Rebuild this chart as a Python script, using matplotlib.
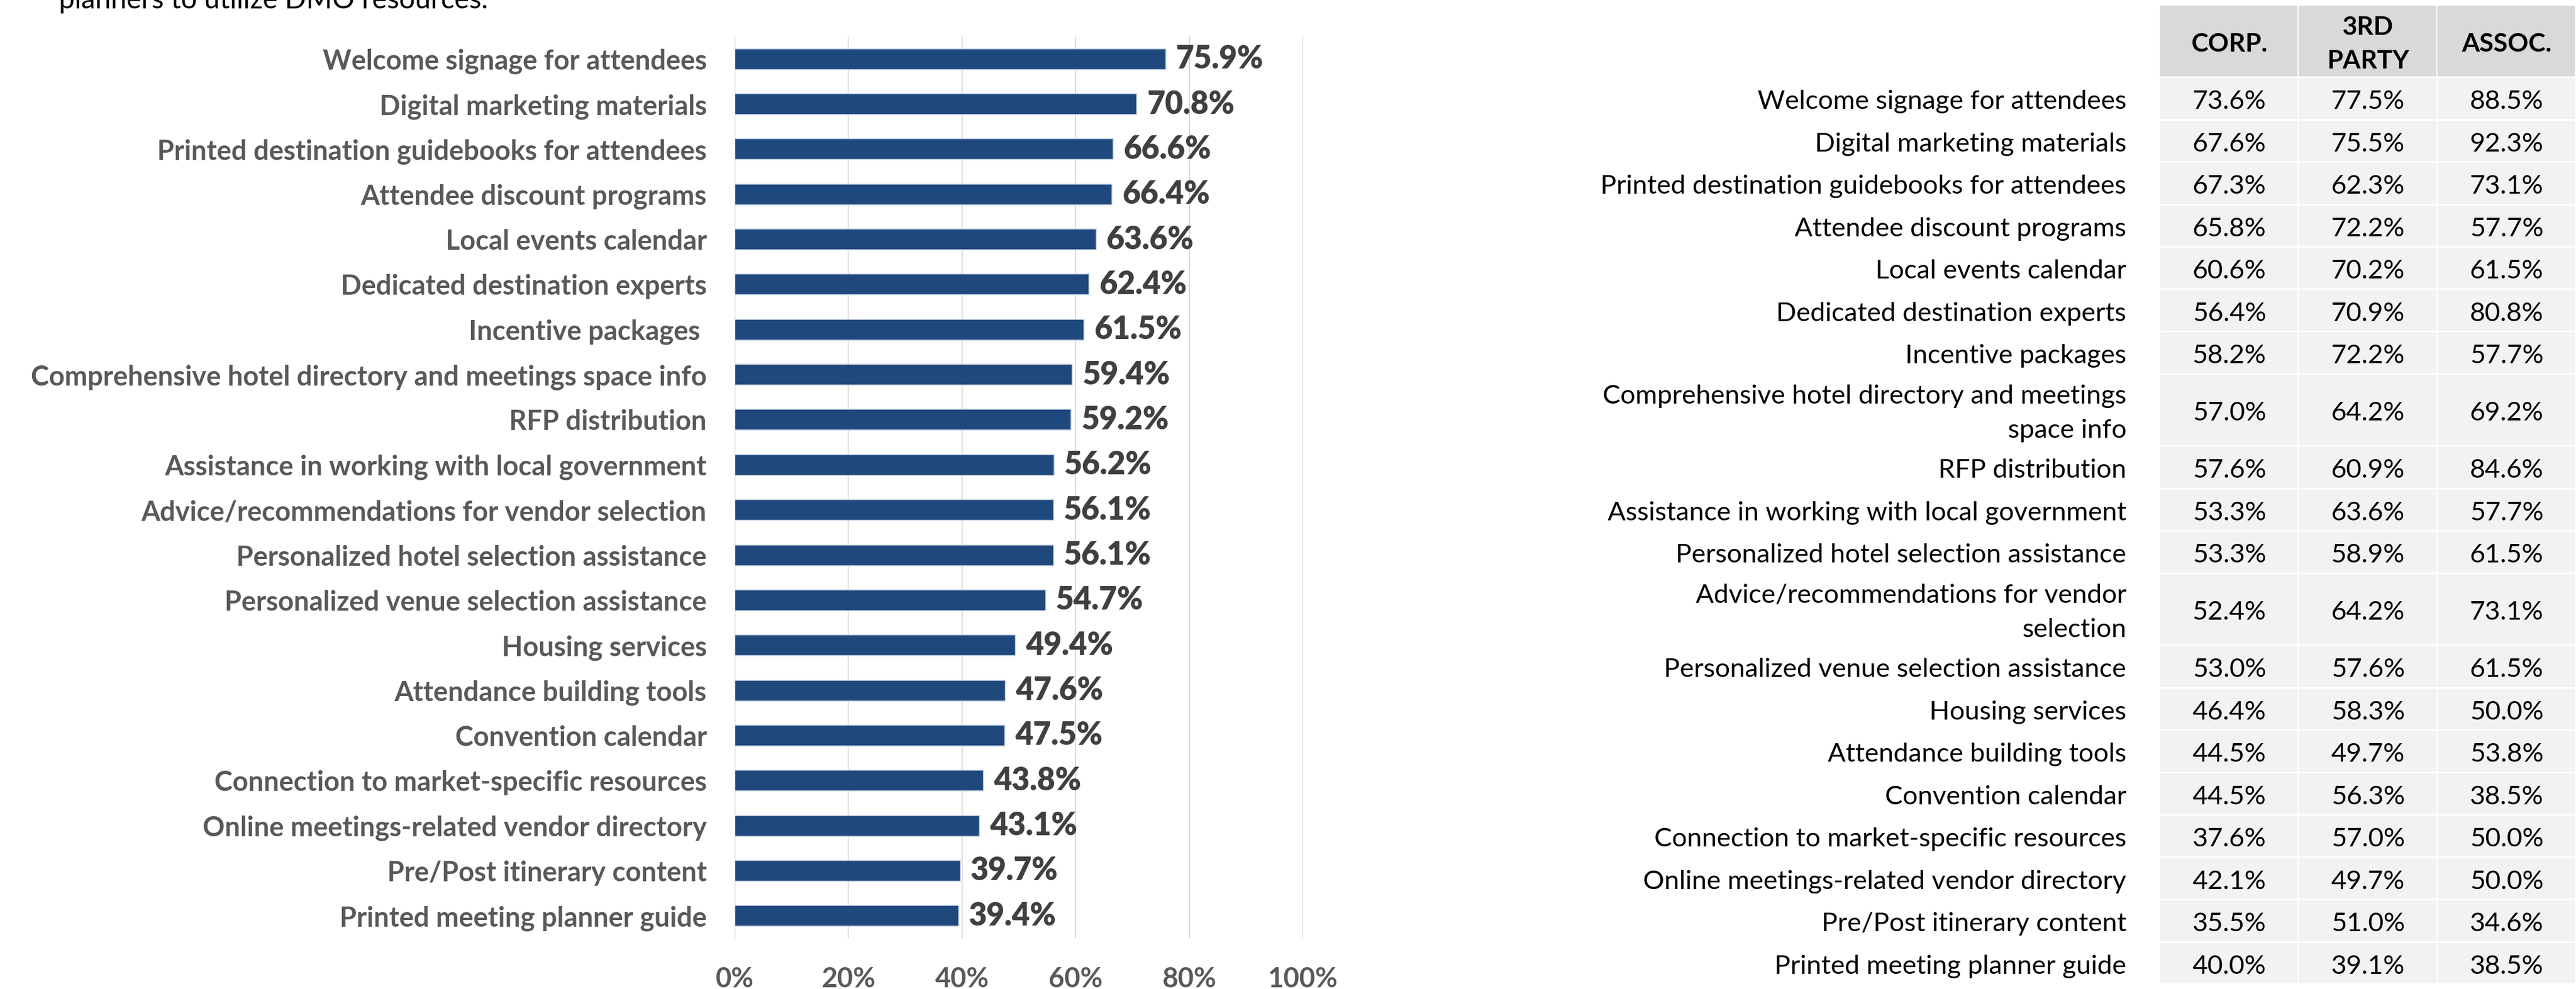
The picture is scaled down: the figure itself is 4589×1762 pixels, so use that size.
import matplotlib
matplotlib.use("Agg")
import matplotlib.pyplot as plt
import matplotlib.patches as mpatches
import numpy as np

plt.rcParams["font.family"] = ["Lato", "DejaVu Sans"]

# ── Datos: gráfico de barras (total) ─────────────────────────────────
bar_labels = [
    "Welcome signage for attendees",
    "Digital marketing materials",
    "Printed destination guidebooks for attendees",
    "Attendee discount programs",
    "Local events calendar",
    "Dedicated destination experts",
    "Incentive packages ",
    "Comprehensive hotel directory and meetings space info",
    "RFP distribution",
    "Assistance in working with local government",
    "Advice/recommendations for vendor selection",
    "Personalized hotel selection assistance",
    "Personalized venue selection assistance",
    "Housing services",
    "Attendance building tools",
    "Convention calendar",
    "Connection to market-specific resources",
    "Online meetings-related vendor directory",
    "Pre/Post itinerary content",
    "Printed meeting planner guide",
]
bar_values = [75.9, 70.8, 66.6, 66.4, 63.6, 62.4, 61.5, 59.4, 59.2, 56.2,
              56.1, 56.1, 54.7, 49.4, 47.6, 47.5, 43.8, 43.1, 39.7, 39.4]
x_ticks = [0, 20, 40, 60, 80, 100]

# ── Datos: tabla por tipo de planificador ─────────────────────────────
table_labels = [
    "Welcome signage for attendees",
    "Digital marketing materials",
    "Printed destination guidebooks for attendees",
    "Attendee discount programs",
    "Local events calendar",
    "Dedicated destination experts",
    "Incentive packages",
    "Comprehensive hotel directory and meetings\nspace info",
    "RFP distribution",
    "Assistance in working with local government",
    "Personalized hotel selection assistance",
    "Advice/recommendations for vendor\nselection",
    "Personalized venue selection assistance",
    "Housing services",
    "Attendance building tools",
    "Convention calendar",
    "Connection to market-specific resources",
    "Online meetings-related vendor directory",
    "Pre/Post itinerary content",
    "Printed meeting planner guide",
]
col_headers = ["CORP.", "3RD\nPARTY", "ASSOC."]
corp = [73.6, 67.6, 67.3, 65.8, 60.6, 56.4, 58.2, 57.0, 57.6, 53.3,
        53.3, 52.4, 53.0, 46.4, 44.5, 44.5, 37.6, 42.1, 35.5, 40.0]
third_party = [77.5, 75.5, 62.3, 72.2, 70.2, 70.9, 72.2, 64.2, 60.9, 63.6,
               58.9, 64.2, 57.6, 58.3, 49.7, 56.3, 57.0, 49.7, 51.0, 39.1]
assoc = [88.5, 92.3, 73.1, 57.7, 61.5, 80.8, 57.7, 69.2, 84.6, 57.7,
         61.5, 73.1, 61.5, 50.0, 53.8, 38.5, 50.0, 50.0, 34.6, 38.5]

# ── Paleta ────────────────────────────────────────────────────────────
C_BAR = "#1F497D"
C_BAR_EDGE = "#c9d5e6"
C_GRID = "#D9D9D9"
C_LABEL = "#595959"
C_VALUE = "#404040"
C_HEAD = "#D9D9D9"
C_CELL = "#F2F2F2"

W_PX, H_PX = 4589, 1762
fig = plt.figure(figsize=(W_PX / 100, H_PX / 100), dpi=100)
fig.patch.set_facecolor("white")

# Título (recortado en el borde superior)
fig.text(105 / W_PX, 1 - 15 / H_PX, "planners to utilize DMO resources.",
         ha="left", va="baseline", fontsize=36, color="black")

# ── Barras ────────────────────────────────────────────────────────────
ax = fig.add_axes([1309 / W_PX, 1 - 1672 / H_PX,
                   (2321 - 1309) / W_PX, (1672 - 65) / H_PX])
y = np.arange(len(bar_labels))
vals = np.array(bar_values) / 100
bars = ax.barh(y, vals, height=0.46, color=C_BAR, edgecolor=C_BAR_EDGE,
               linewidth=1.2, zorder=3)
ax.set_ylim(len(bar_labels) - 0.5, -0.5)
ax.set_xlim(0, 1)
ax.set_xticks(np.array(x_ticks) / 100)
ax.set_xticklabels([f"{t}%" for t in x_ticks])
ax.set_yticks(y)
ax.set_yticklabels(bar_labels)
ax.grid(axis="x", color=C_GRID, lw=1.5, zorder=0)
ax.axvline(0, color=C_GRID, lw=1.5, zorder=1)
for s in ax.spines.values():
    s.set_visible(False)
ax.tick_params(axis="y", length=0, pad=36, labelsize=35, labelcolor=C_LABEL)
ax.tick_params(axis="x", length=0, pad=36, labelsize=35, labelcolor=C_LABEL)
for lbl in ax.get_yticklabels() + ax.get_xticklabels():
    lbl.set_fontweight("bold")
ax.bar_label(bars, labels=[f"{v:.1f}%" for v in bar_values], padding=13,
             fontsize=40, fontweight="heavy", color=C_VALUE)

# ── Tabla ─────────────────────────────────────────────────────────────
tab = fig.add_axes([0, 0, 1, 1])
tab.set_xlim(0, W_PX)
tab.set_ylim(H_PX, 0)
tab.axis("off")

COL_X0, COL_W = 3848, 247
LABEL_X = 3788
HEAD_TOP, HEAD_H = 10, 126
ROW_H, ROW_H2, GAP = 72.5, 125.5, 3
TXT_DY = 6   # ajuste óptico del texto dentro de la celda

for j, head in enumerate(col_headers):
    x0 = COL_X0 + j * COL_W
    tab.add_patch(mpatches.Rectangle((x0, HEAD_TOP), COL_W - 2, HEAD_H,
                                     facecolor=C_HEAD, edgecolor="none"))
    tab.text(x0 + COL_W / 2, HEAD_TOP + HEAD_H / 2 + TXT_DY, head,
             ha="center", va="center", fontsize=33, fontweight="bold",
             color="black", linespacing=1.55)

y_top = HEAD_TOP + HEAD_H + GAP
for i, label in enumerate(table_labels):
    h = ROW_H2 if "\n" in label else ROW_H
    yc = y_top + h / 2 + TXT_DY
    tab.text(LABEL_X, yc, label, ha="right", va="center", fontsize=34,
             color="black", linespacing=1.55)
    for j, col in enumerate([corp, third_party, assoc]):
        x0 = COL_X0 + j * COL_W
        tab.add_patch(mpatches.Rectangle((x0, y_top), COL_W - 2, h,
                                         facecolor=C_CELL, edgecolor="none"))
        tab.text(x0 + COL_W / 2, yc, f"{col[i]:.1f}%", ha="center",
                 va="center", fontsize=34, color="black")
    y_top += h + GAP

fig.savefig("out.png", dpi=100, facecolor="white")
